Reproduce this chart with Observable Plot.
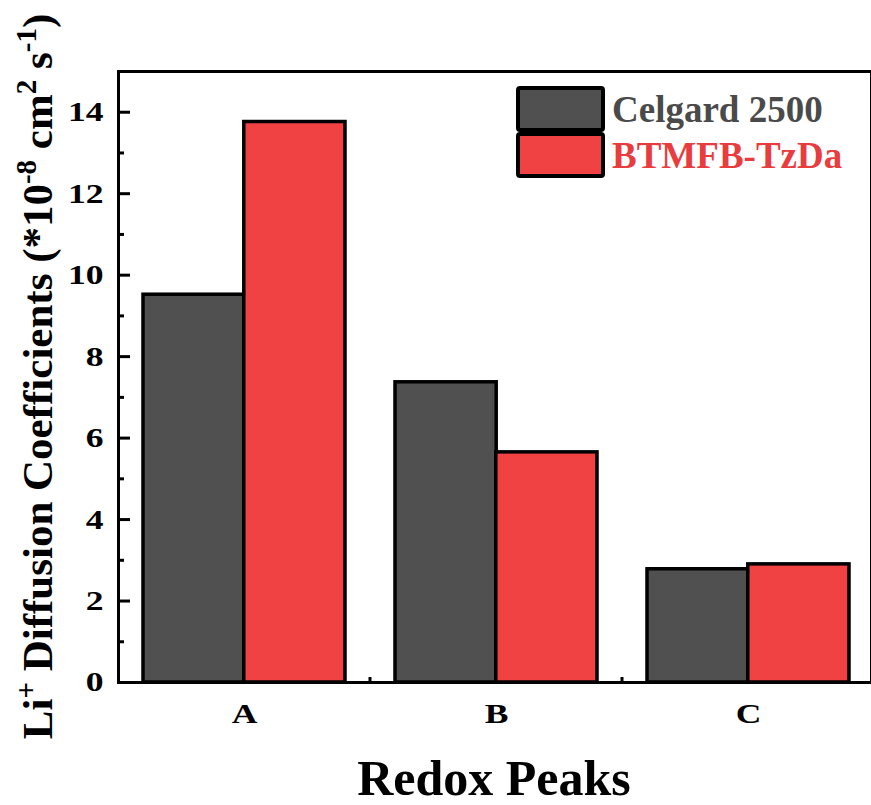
<!DOCTYPE html>
<html><head><meta charset="utf-8">
<script src="https://cdn.jsdelivr.net/npm/d3@7"></script>
<script src="https://cdn.jsdelivr.net/npm/@observablehq/plot@0.6"></script>
<style>
body{margin:0;background:#fff;overflow:hidden}
#chart{position:relative;width:871px;height:805px}
</style>
</head><body><div id="chart"></div>
<script>
const categories = ["A", "B", "C"];
const seriesNames = ["Celgard 2500", "BTMFB-TzDa"];
const celgardValues = [9.52, 7.37, 2.78];
const btmfbValues = [13.76, 5.65, 2.90];
const yMajorTicks = [0, 2, 4, 6, 8, 10, 12, 14];
const yMinorTicks = [1, 3, 5, 7, 9, 11, 13];
const xTitle = "Redox Peaks";

const data = categories.flatMap((c, i) => [
  {cat: c, series: seriesNames[0], value: celgardValues[i]},
  {cat: c, series: seriesNames[1], value: btmfbValues[i]}
]);

const colors = ["#505050", "#f04143"];
const textColors = ["#4a4a4a", "#e83c3f"];
const font = "'Liberation Serif','Times New Roman',serif";
const W = 871, H = 805, ml = 118, mt = 71, mb = 123;
const xRange = [ml, 874];
const xOpts = {type: "band", domain: categories, range: xRange, paddingInner: 0.2, paddingOuter: 0.1};
const xs = Plot.scale({x: xOpts});
const half = xs.bandwidth / 2;

const plot = Plot.plot({
  width: W, height: H,
  marginLeft: ml, marginTop: mt, marginBottom: mb, marginRight: 0,
  style: {fontFamily: font, fontWeight: "bold", fontSize: "28px", background: "#fff", color: "black", overflow: "hidden"},
  x: {...xOpts, label: null},
  y: {domain: [0, 15], label: null},
  color: {domain: seriesNames, range: colors},
  marks: [
    Plot.barY(data.filter(d => d.series === seriesNames[0]),
      {x: "cat", y: "value", fill: "series", stroke: "black", strokeWidth: 3.5, insetRight: half}),
    Plot.barY(data.filter(d => d.series === seriesNames[1]),
      {x: "cat", y: "value", fill: "series", stroke: "black", strokeWidth: 3.5, insetLeft: half}),
    Plot.axisY({ticks: yMajorTicks, tickSize: 0, tickPadding: 15, label: null}),
    Plot.axisY({ticks: yMajorTicks, tickSize: -12, tickFormat: () => "", strokeWidth: 3, label: null}),
    Plot.axisY({ticks: yMinorTicks, tickSize: -6, tickFormat: () => "", strokeWidth: 3, label: null}),
    Plot.axisX({tickSize: 0, tickPadding: 21, label: null}),
    Plot.frame({stroke: "black", strokeWidth: 3})
  ]
});
document.getElementById("chart").appendChild(plot);

const svg = d3.select(plot);
const ys = plot.scale("y");
const yTop = ys.apply(15), yBot = ys.apply(0);

// tick labels: 28px, slightly widened like the reference glyphs
svg.selectAll('g[aria-label$="tick label"] text').each(function () {
  const t = d3.select(this);
  t.style("font-size", "28px");
  const tr = t.attr("transform") || "";
  t.attr("transform", tr + " scale(1.27,1)");
});

// small inward ticks at category boundaries
const step = xs.step;
const bounds = categories.slice(1).map(c => xs.apply(c) - (step - xs.bandwidth) / 2);
svg.append("g").selectAll("line").data(bounds).join("line")
  .attr("x1", d => d).attr("x2", d => d)
  .attr("y1", yBot).attr("y2", yBot - 5)
  .attr("stroke", "black").attr("stroke-width", 3);

// y axis title with superscripts
const yt = svg.append("text")
  .attr("transform", `translate(52,${(yTop + yBot) / 2}) rotate(-90)`)
  .attr("text-anchor", "middle")
  .attr("font-family", font).attr("font-weight", "bold").attr("font-size", 43)
  .attr("fill", "black");
const parts = [["Li", false], ["+", true], [" Diffusion Coefficients (*10", false], ["-8", true],
  [" cm", false], ["2", true], [" s", false], ["-1", true], [")", false]];
parts.forEach(([t, sup]) => {
  const ts = yt.append("tspan").text(t);
  if (sup) ts.attr("baseline-shift", "super").attr("font-size", 29);
});

// x axis title
svg.append("text")
  .attr("x", (xRange[0] + xRange[1]) / 2 - 2).attr("y", 795)
  .attr("text-anchor", "middle")
  .attr("font-family", font).attr("font-weight", "bold").attr("font-size", 50)
  .attr("fill", "black").text(xTitle);

// legend
const lg = svg.append("g");
seriesNames.forEach((s, i) => {
  const y = 88 + i * 46;
  lg.append("rect").attr("x", 518).attr("y", y).attr("width", 85).attr("height", 42)
    .attr("rx", 2).attr("fill", colors[i]).attr("stroke", "black").attr("stroke-width", 4);
  lg.append("text").attr("x", 612).attr("y", y + 34)
    .attr("text-anchor", "start")
    .attr("font-family", font).attr("font-weight", "bold").attr("font-size", 37)
    .attr("fill", textColors[i]).text(s);
});
</script>
</body></html>
